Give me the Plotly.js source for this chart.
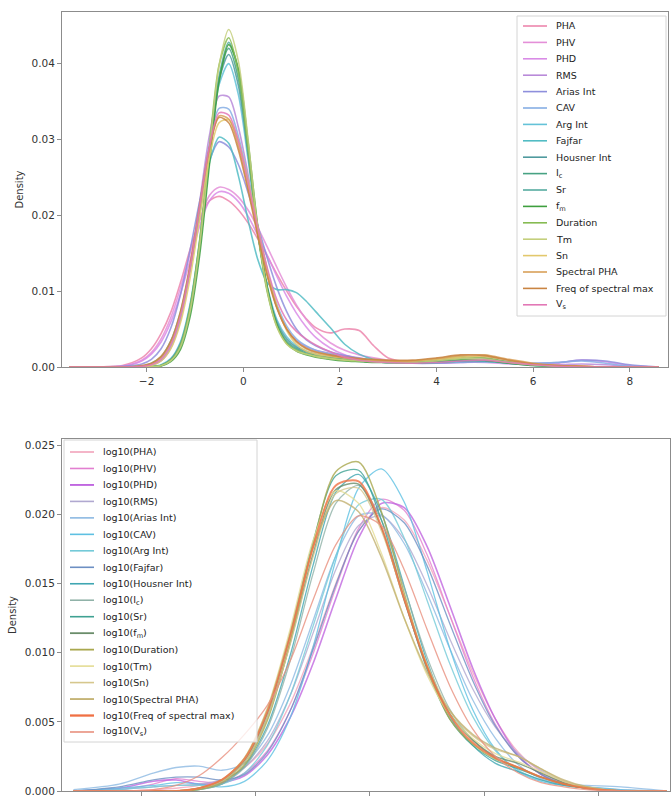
<!DOCTYPE html>
<html><head><meta charset="utf-8">
<script src="https://cdn.plot.ly/plotly-3.0.1.min.js"></script>
<style>html,body{margin:0;padding:0;background:#fff}#chart{width:671px;height:798px}</style>
</head><body><div id="chart"></div>
<script>
// ---------- shared grids ----------
const topX = [-3.6,-3.0,-2.5,-2.1,-1.9,-1.7,-1.5,-1.3,-1.1,-0.9,-0.7,-0.5,-0.3,-0.1,0.1,0.3,0.5,0.7,0.9,1.1,1.3,1.5,1.8,2.1,2.4,2.7,3.0,3.5,4.0,4.5,5.0,5.5,6.0,6.5,7.0,7.5,8.0,8.6];
const botX = [-2.6,-2.2,-1.9,-1.7,-1.5,-1.3,-1.1,-0.9,-0.7,-0.5,-0.3,-0.1,0.1,0.3,0.5,0.7,0.9,1.1,1.3,1.5,1.7,1.9,2.2,2.6];

// ---------- labels ----------
const topLabels = ["PHA","PHV","PHD","RMS","Arias Int","CAV","Arg Int","Fajfar","Housner Int","I<sub>c</sub>","Sr","f<sub>m</sub>","Duration","Tm","Sn","Spectral PHA","Freq of spectral max","V<sub>s</sub>"];
const botLabels = ["log10(PHA)","log10(PHV)","log10(PHD)","log10(RMS)","log10(Arias Int)","log10(CAV)","log10(Arg Int)","log10(Fajfar)","log10(Housner Int)","log10(I<sub>c</sub>)","log10(Sr)","log10(f<sub>m</sub>)","log10(Duration)","log10(Tm)","log10(Sn)","log10(Spectral PHA)","log10(Freq of spectral max)","log10(V<sub>s</sub>)"];

// ---------- top panel densities ----------
const tPHA  = [0,0.00002,0.0002,0.0012,0.0024,0.0044,0.0072,0.0111,0.0155,0.0194,0.0219,0.0225,0.0219,0.0207,0.0190,0.0169,0.0146,0.0122,0.0100,0.0080,0.0064,0.0052,0.0045,0.0050,0.0048,0.0028,0.0012,0.0007,0.0009,0.0013,0.0014,0.0009,0.0004,0.0002,0.0001,0,0,0];
const tPHV  = [0,0.00001,0.00012,0.0009,0.0019,0.0037,0.0065,0.0104,0.0150,0.0194,0.0226,0.0237,0.0234,0.0224,0.0207,0.0184,0.0158,0.0131,0.0105,0.0082,0.0063,0.0048,0.0032,0.0022,0.0016,0.0012,0.0009,0.0006,0.0007,0.0010,0.0011,0.0007,0.0004,0.0002,0.0001,0,0,0];
const tPHD  = [0,0.00001,0.0001,0.0008,0.0017,0.0033,0.0059,0.0096,0.0141,0.0186,0.0219,0.0231,0.0229,0.0218,0.0199,0.0174,0.0147,0.0119,0.0093,0.0071,0.0053,0.0039,0.0025,0.0016,0.0011,0.0008,0.0006,0.0005,0.0005,0.0006,0.0006,0.0004,0.0003,0.0005,0.0009,0.0007,0.0002,0];
const tRMS  = [0,0,0,0.0001,0.0002,0.0008,0.0025,0.0062,0.0128,0.0218,0.0305,0.0357,0.0356,0.0316,0.0254,0.0185,0.0124,0.0078,0.0050,0.0035,0.0027,0.0022,0.0018,0.0015,0.0012,0.0009,0.0007,0.0005,0.0006,0.0008,0.0009,0.0006,0.0004,0.0003,0.0004,0.0003,0.0001,0];
const tArias= [0,0.00002,0.00008,0.0004,0.0010,0.0024,0.0051,0.0095,0.0154,0.0219,0.0272,0.0297,0.0290,0.0267,0.0230,0.0187,0.0143,0.0104,0.0073,0.0050,0.0036,0.0028,0.0020,0.0015,0.0011,0.0009,0.0007,0.0005,0.0005,0.0006,0.0007,0.0006,0.0005,0.0006,0.0009,0.0008,0.0003,0];
const tCAV  = [0,0,0,0.0001,0.0003,0.0009,0.0027,0.0064,0.0127,0.0212,0.0293,0.0341,0.0340,0.0304,0.0248,0.0184,0.0127,0.0082,0.0054,0.0037,0.0028,0.0022,0.0017,0.0013,0.0010,0.0008,0.0006,0.0005,0.0006,0.0009,0.0010,0.0007,0.0005,0.0006,0.0008,0.0005,0.0001,0];
const tArg  = [0,0,0,0,0.00006,0.0003,0.0011,0.0033,0.0083,0.0167,0.0278,0.0372,0.0400,0.0359,0.0274,0.0177,0.0106,0.0062,0.0040,0.0028,0.0021,0.0017,0.0013,0.0010,0.0008,0.0007,0.0006,0.0005,0.0006,0.0007,0.0007,0.0005,0.0003,0.0001,0,0,0,0];
const tFaj  = [0,0,0.00002,0.00013,0.0005,0.0013,0.0034,0.0072,0.0131,0.0203,0.0269,0.0303,0.0295,0.0252,0.0194,0.0142,0.0111,0.0102,0.0102,0.0098,0.0087,0.0073,0.0052,0.0030,0.0017,0.0010,0.0007,0.0005,0.0006,0.0008,0.0008,0.0005,0.0002,0.0001,0,0,0,0];
const tHous = [0,0,0,0,0.00005,0.0002,0.0010,0.0031,0.0080,0.0165,0.0279,0.0378,0.0412,0.0371,0.0281,0.0178,0.0104,0.0059,0.0037,0.0026,0.0020,0.0016,0.0012,0.0010,0.0008,0.0007,0.0006,0.0005,0.0006,0.0008,0.0008,0.0005,0.0003,0.0001,0,0,0,0];
const tIc   = [0,0,0,0,0.00004,0.0002,0.0009,0.0028,0.0076,0.0160,0.0276,0.0380,0.0420,0.0380,0.0286,0.0179,0.0102,0.0056,0.0034,0.0024,0.0018,0.0015,0.0012,0.0010,0.0008,0.0007,0.0006,0.0006,0.0007,0.0009,0.0009,0.0006,0.0003,0.0001,0,0,0,0];
const tSr   = [0,0,0,0,0.00003,0.00016,0.0008,0.0026,0.0072,0.0156,0.0275,0.0383,0.0428,0.0390,0.0292,0.0181,0.0101,0.0054,0.0032,0.0022,0.0017,0.0014,0.0011,0.0009,0.0008,0.0007,0.0006,0.0006,0.0007,0.0010,0.0009,0.0006,0.0003,0.0001,0,0,0,0];
const tFm   = [0,0,0,0,0.00002,0.00014,0.0007,0.0023,0.0066,0.0148,0.0266,0.0376,0.0425,0.0393,0.0297,0.0186,0.0104,0.0055,0.0031,0.0021,0.0016,0.0013,0.0010,0.0008,0.0007,0.0006,0.0006,0.0006,0.0008,0.0010,0.0009,0.0005,0.0002,0.0001,0,0,0,0];
const tDur  = [0,0,0,0,0.00005,0.0002,0.0009,0.0029,0.0079,0.0168,0.0290,0.0398,0.0434,0.0388,0.0287,0.0177,0.0098,0.0053,0.0031,0.0022,0.0017,0.0014,0.0011,0.0009,0.0008,0.0007,0.0007,0.0008,0.0010,0.0013,0.0012,0.0007,0.0003,0.0001,0,0,0,0];
const tTm   = [0,0,0,0,0.00003,0.00017,0.0008,0.0026,0.0073,0.0160,0.0283,0.0397,0.0445,0.0403,0.0300,0.0183,0.0100,0.0052,0.0030,0.0021,0.0017,0.0014,0.0011,0.0009,0.0008,0.0007,0.0006,0.0006,0.0008,0.0011,0.0010,0.0006,0.0003,0.0001,0,0,0,0];
const tSn   = [0,0,0,0.0001,0.0002,0.0008,0.0024,0.0058,0.0117,0.0197,0.0276,0.0322,0.0326,0.0298,0.0247,0.0186,0.0128,0.0080,0.0048,0.0030,0.0021,0.0017,0.0014,0.0012,0.0010,0.0009,0.0008,0.0008,0.0010,0.0013,0.0014,0.0009,0.0004,0.0002,0.0001,0,0,0];
const tSpec = [0,0,0,0.0001,0.0004,0.0012,0.0031,0.0069,0.0130,0.0210,0.0287,0.0331,0.0327,0.0292,0.0238,0.0177,0.0122,0.0078,0.0050,0.0033,0.0024,0.0019,0.0015,0.0012,0.0010,0.0009,0.0008,0.0008,0.0011,0.0015,0.0016,0.0010,0.0005,0.0002,0.0001,0,0,0];
const tFreq = [0,0,0,0.0002,0.0005,0.0014,0.0034,0.0073,0.0135,0.0214,0.0289,0.0329,0.0322,0.0286,0.0233,0.0173,0.0119,0.0077,0.0050,0.0034,0.0025,0.0020,0.0016,0.0013,0.0011,0.0010,0.0009,0.0009,0.0012,0.0016,0.0015,0.0009,0.0004,0.0002,0.0001,0,0,0];
const tVs   = [0,0,0,0.0001,0.0003,0.0010,0.0029,0.0067,0.0130,0.0212,0.0290,0.0335,0.0332,0.0298,0.0244,0.0184,0.0130,0.0088,0.0062,0.0047,0.0037,0.0029,0.0020,0.0013,0.0009,0.0007,0.0006,0.0005,0.0006,0.0008,0.0009,0.0006,0.0003,0.0001,0,0,0,0];

// ---------- bottom panel densities ----------
const bPHA  = [0,0,0.0001,0.0002,0.0004,0.0008,0.0017,0.0034,0.0063,0.0104,0.0150,0.0188,0.0205,0.0196,0.0167,0.0127,0.0086,0.0052,0.0028,0.0014,0.0006,0.0002,0,0];
const bPHV  = [0,0.0001,0.0005,0.0009,0.0007,0.0006,0.0013,0.0029,0.0058,0.0099,0.0147,0.0190,0.0211,0.0203,0.0171,0.0127,0.0083,0.0048,0.0025,0.0012,0.0005,0.0002,0,0];
const bPHD  = [0,0.0002,0.0007,0.0008,0.0005,0.0006,0.0011,0.0026,0.0053,0.0092,0.0139,0.0183,0.0208,0.0205,0.0177,0.0134,0.0089,0.0052,0.0026,0.0012,0.0005,0.0002,0,0];
const bRMS  = [0,0.0001,0.0003,0.0004,0.0005,0.0008,0.0017,0.0036,0.0069,0.0114,0.0160,0.0192,0.0199,0.0182,0.0149,0.0110,0.0074,0.0046,0.0027,0.0015,0.0007,0.0003,0.0001,0];
const bArias= [0.0001,0.0005,0.0013,0.0017,0.0018,0.0015,0.0020,0.0040,0.0076,0.0123,0.0170,0.0199,0.0200,0.0179,0.0143,0.0103,0.0066,0.0038,0.0019,0.0009,0.0005,0.0004,0.0003,0];
const bCAV  = [0,0.0002,0.0004,0.0006,0.0005,0.0003,0.0007,0.0022,0.0053,0.0104,0.0167,0.0219,0.0233,0.0209,0.0159,0.0103,0.0059,0.0030,0.0014,0.0007,0.0004,0.0003,0.0001,0];
const bArg  = [0,0.0001,0.0003,0.0004,0.0004,0.0005,0.0013,0.0033,0.0069,0.0119,0.0170,0.0207,0.0211,0.0183,0.0138,0.0092,0.0054,0.0029,0.0015,0.0008,0.0004,0.0002,0,0];
const bFaj  = [0,0.0003,0.0008,0.0010,0.0010,0.0008,0.0012,0.0028,0.0058,0.0102,0.0149,0.0188,0.0204,0.0194,0.0163,0.0121,0.0080,0.0047,0.0025,0.0012,0.0005,0.0002,0,0];
const bHous = [0,0,0,0,0.0001,0.0005,0.0018,0.0047,0.0098,0.0163,0.0216,0.0229,0.0201,0.0148,0.0094,0.0054,0.0033,0.0020,0.0014,0.0008,0.0004,0.0002,0,0];
const bIc   = [0,0,0,0,0.0001,0.0005,0.0017,0.0045,0.0094,0.0157,0.0208,0.0221,0.0196,0.0147,0.0097,0.0059,0.0037,0.0024,0.0017,0.0010,0.0005,0.0002,0,0];
const bSr   = [0,0,0,0,0.0002,0.0007,0.0022,0.0056,0.0113,0.0180,0.0228,0.0232,0.0196,0.0139,0.0088,0.0052,0.0033,0.0022,0.0016,0.0010,0.0005,0.0002,0,0];
const bFm   = [0,0,0,0,0.0002,0.0007,0.0021,0.0053,0.0107,0.0171,0.0218,0.0222,0.0190,0.0138,0.0090,0.0056,0.0037,0.0025,0.0020,0.0013,0.0006,0.0002,0,0];
const bDur  = [0,0,0,0,0.0001,0.0006,0.0019,0.0051,0.0108,0.0178,0.0231,0.0238,0.0202,0.0143,0.0090,0.0052,0.0034,0.0023,0.0017,0.0010,0.0005,0.0002,0,0];
const bTm   = [0,0,0,0,0.0002,0.0008,0.0024,0.0060,0.0117,0.0181,0.0217,0.0208,0.0172,0.0125,0.0084,0.0055,0.0038,0.0027,0.0021,0.0014,0.0007,0.0003,0,0];
const bSn   = [0,0,0,0,0.0002,0.0007,0.0021,0.0053,0.0106,0.0169,0.0215,0.0219,0.0188,0.0139,0.0092,0.0058,0.0040,0.0030,0.0025,0.0016,0.0007,0.0002,0,0];
const bSpec = [0,0,0,0,0.0002,0.0008,0.0024,0.0059,0.0114,0.0176,0.0210,0.0202,0.0169,0.0125,0.0086,0.0058,0.0041,0.0031,0.0025,0.0016,0.0008,0.0003,0,0];
const bFreq = [0,0,0,0,0.0002,0.0008,0.0023,0.0057,0.0112,0.0176,0.0221,0.0224,0.0191,0.0139,0.0090,0.0055,0.0035,0.0024,0.0017,0.0010,0.0005,0.0002,0,0];
const bVs   = [0,0,0.0001,0.0004,0.0011,0.0024,0.0041,0.0062,0.0094,0.0138,0.0178,0.0199,0.0192,0.0160,0.0117,0.0076,0.0045,0.0025,0.0013,0.0006,0.0003,0.0001,0,0];

// ---------- tick labels ----------
const topXTicks = [-2,0,2,4,6,8];
const topYTicks = [0,0.01,0.02,0.03,0.04];
const topYTickText = ["0.00","0.01","0.02","0.03","0.04"];
const botXTicks = [-2,-1,0,1,2];
const botYTicks = [0,0.005,0.010,0.015,0.020,0.025];
const botYTickText = ["0.000","0.005","0.010","0.015","0.020","0.025"];

const topSeries = [tPHA,tPHV,tPHD,tRMS,tArias,tCAV,tArg,tFaj,tHous,tIc,tSr,tFm,tDur,tTm,tSn,tSpec,tFreq,tVs];
const botSeries = [bPHA,bPHV,bPHD,bRMS,bArias,bCAV,bArg,bFaj,bHous,bIc,bSr,bFm,bDur,bTm,bSn,bSpec,bFreq,bVs];

// ---------- styling ----------
const topColors = ["#ec86ad","#e48fd8","#d98be6","#b98ad9","#8e8fdc","#86aee4","#64c2d8","#52bcc4","#4f9a9e","#47a283","#57aca0","#3e9f3e","#86bb52","#c4cf7c","#e2c86c","#d8a058","#c98442","#e278b6"];
const botColors = ["#f2a3ba","#e27fd0","#c066e0","#b0a8d0","#8cb9e2","#5ec0e2","#74cad8","#6d8fc3","#3fa6b2","#90b2a8","#3fa192","#6a8d6a","#a9a84e","#e4dc94","#d6c78d","#c2b070","#f07044","#e8907e"];
const botWidths = [1.3,1.3,1.6,1.3,1.3,1.3,1.3,1.3,1.3,1.3,1.3,1.5,1.5,1.3,1.3,1.5,2.0,1.3];

const W=671,H=798,ML=62,MR=1,MT=12,MB=7;
const PW=W-ML-MR, PH=H-MT-MB;
const px = v => (v-ML)/PW;
const py = v => (H-MB-v)/PH;

const traces = [];
topSeries.forEach((s,i)=>traces.push({x:topX,y:s,type:'scatter',mode:'lines',xaxis:'x',yaxis:'y',
  line:{color:topColors[i],width:1.6,shape:'spline',smoothing:0.8},opacity:0.85,hoverinfo:'skip',showlegend:false}));
botSeries.forEach((s,i)=>traces.push({x:botX,y:s,type:'scatter',mode:'lines',xaxis:'x2',yaxis:'y2',
  line:{color:botColors[i],width:botWidths[i],shape:'spline',smoothing:0.8},opacity:0.8,hoverinfo:'skip',showlegend:false}));

const font = {family:'DejaVu Sans, sans-serif',size:10,color:'#333'};
const axisCommon = {showline:true,mirror:true,linecolor:'#8c8c8c',linewidth:1,ticks:'outside',ticklen:4,tickcolor:'#8c8c8c',
  showgrid:false,zeroline:false,tickfont:{family:'DejaVu Sans, sans-serif',size:10.5,color:'#333'}};

const shapes=[], annotations=[];
// top legend
shapes.push({type:'rect',xref:'paper',yref:'paper',x0:px(517),x1:px(666),y0:py(16),y1:py(316),
  line:{color:'#d4d4d4',width:1},fillcolor:'rgba(255,255,255,0.8)',layer:'above'});
topLabels.forEach((t,i)=>{
  const yy=26+i*16.4;
  shapes.push({type:'line',xref:'paper',yref:'paper',x0:px(523),x1:px(547),y0:py(yy),y1:py(yy),
    line:{color:topColors[i],width:1.6},layer:'above'});
  annotations.push({xref:'paper',yref:'paper',x:px(554),y:py(yy),xanchor:'left',yanchor:'middle',text:t,showarrow:false,
    font:{family:'DejaVu Sans, sans-serif',size:9.5,color:'#222'}});
});
// bottom legend
shapes.push({type:'rect',xref:'paper',yref:'paper',x0:px(64),x1:px(257),y0:py(440),y1:py(742),
  line:{color:'#d4d4d4',width:1},fillcolor:'rgba(255,255,255,0.8)',layer:'above'});
botLabels.forEach((t,i)=>{
  const yy=452+i*16.47;
  shapes.push({type:'line',xref:'paper',yref:'paper',x0:px(70),x1:px(94),y0:py(yy),y1:py(yy),
    line:{color:botColors[i],width:botWidths[i]+0.3},layer:'above'});
  annotations.push({xref:'paper',yref:'paper',x:px(101),y:py(yy),xanchor:'left',yanchor:'middle',text:t,showarrow:false,
    font:{family:'DejaVu Sans, sans-serif',size:9.5,color:'#222'}});
});

const layout = {
  width:W,height:H,margin:{l:ML,r:MR,t:MT,b:MB},paper_bgcolor:'#fff',plot_bgcolor:'#fff',font:font,showlegend:false,
  xaxis:Object.assign({},axisCommon,{domain:[0,606/PW],anchor:'y',range:[-3.75,8.79],tickvals:topXTicks,ticktext:topXTicks.map(v=>v<0?'\u2212'+Math.abs(v):String(v))}),
  yaxis:Object.assign({},axisCommon,{domain:[py(367),1],anchor:'x',range:[0,0.0468],tickvals:topYTicks,ticktext:topYTickText,
    title:{text:'Density',font:{family:'DejaVu Sans, sans-serif',size:10,color:'#333'},standoff:6}}),
  xaxis2:Object.assign({},axisCommon,{domain:[0,1],anchor:'y2',range:[-2.7,2.63],tickvals:botXTicks,showticklabels:false}),
  yaxis2:Object.assign({},axisCommon,{domain:[0,py(439)],anchor:'x2',range:[0,0.02546],tickvals:botYTicks,ticktext:botYTickText,
    title:{text:'Density',font:{family:'DejaVu Sans, sans-serif',size:10,color:'#333'},standoff:6}}),
  shapes:shapes,annotations:annotations
};
Plotly.newPlot('chart',traces,layout,{staticPlot:true,displayModeBar:false});
</script>
</body></html>
